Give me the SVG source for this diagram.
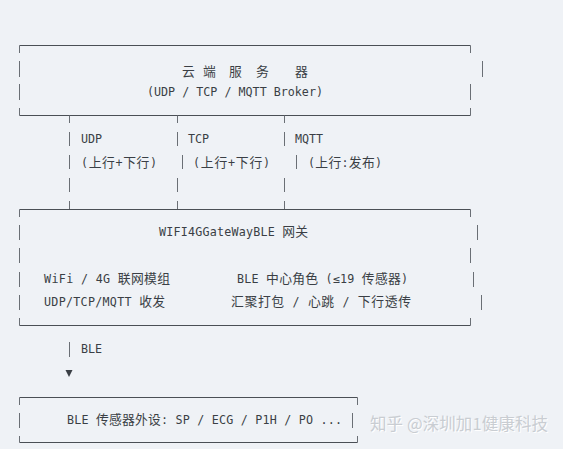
<svg xmlns="http://www.w3.org/2000/svg" width="563" height="449" viewBox="0 0 563 449">
<style>
.t{font-family:"DejaVu Sans Mono","Liberation Mono","Noto Sans CJK SC",monospace;font-size:11.7px;fill:#3a3f45}
.t tspan{font-family:"Noto Sans CJK SC",sans-serif;font-size:12.8px}
.c{font-family:"Noto Sans CJK SC",sans-serif;font-size:12.8px;fill:#3a3f45}
.h{stroke:#4a4f55;stroke-width:1;fill:none}
.v{stroke:#6a6f75;stroke-width:1;fill:none}
.wm{font-family:"Noto Sans CJK SC",sans-serif;font-size:16.5px}
</style>
<rect width="563" height="449" fill="#eff2f6"/>
<g id="cloud">
<path class="h" d="M19.5 45.5H470.5M19.5 115.5H470.5"/>
<path class="v" d="M19.5 45.5V53M19.5 61V77M19.5 84V100M19.5 108V115.5M470.5 45.5V53M482.5 61V77M470.5 84V100M470.5 108V115.5"/>
<text class="c" x="182" y="76">云</text>
<text class="c" x="203" y="76">端</text>
<text class="c" x="229" y="76">服</text>
<text class="c" x="256" y="76">务</text>
<text class="c" x="295" y="76">器</text>
<text class="t" x="147" y="96" textLength="176" lengthAdjust="spacing">(UDP / TCP / MQTT Broker)</text>
</g>
<g id="connectors">
<path class="v" d="M69.5 115.5V123M69.5 132V146M69.5 155V169M69.5 178V192M69.5 201V209.5"/>
<path class="v" d="M177.5 115.5V123M177.5 132V146M182.5 155V169M177.5 178V192M177.5 201V209.5"/>
<path class="v" d="M284.5 115.5V123M284.5 132V146M296.5 155V169M284.5 178V192M284.5 201V209.5"/>
<text class="t" x="81" y="143">UDP</text>
<text class="t" x="81" y="167" textLength="76" lengthAdjust="spacing">(<tspan>上行</tspan>+<tspan>下行</tspan>)</text>
<text class="t" x="188" y="143">TCP</text>
<text class="t" x="193" y="167" textLength="77" lengthAdjust="spacing">(<tspan>上行</tspan>+<tspan>下行</tspan>)</text>
<text class="t" x="295" y="143">MQTT</text>
<text class="t" x="308" y="167" textLength="74" lengthAdjust="spacing">(<tspan>上行</tspan>:<tspan>发布</tspan>)</text>
<path class="v" d="M69.5 342V357"/>
<text class="t" x="81" y="353">BLE</text>
<path d="M65.5 370H72.5L69 377Z" fill="#3a3f45"/>
</g>
<g id="gateway">
<path class="h" d="M19.5 209.5H470.5M19.5 325.5H470.5"/>
<path class="v" d="M19.5 209.5V217M19.5 225V240M19.5 248V263M19.5 272V287M19.5 295V310M19.5 318V325.5M470.5 209.5V217M477.5 225V240M470.5 248V263M473.5 272V287M481.5 295V310M470.5 318V325.5"/>
<text class="t" x="159" y="236" textLength="149" lengthAdjust="spacing">WIFI4GGateWayBLE <tspan>网关</tspan></text>
<text class="t" x="44" y="283" textLength="126" lengthAdjust="spacing">WiFi / 4G <tspan>联网模组</tspan></text>
<text class="t" x="237" y="283" textLength="171" lengthAdjust="spacing">BLE <tspan>中心角色</tspan> (≤19 <tspan>传感器</tspan>)</text>
<text class="t" x="44" y="306" textLength="121" lengthAdjust="spacing">UDP/TCP/MQTT <tspan>收发</tspan></text>
<text class="t" x="231" y="306" textLength="180" lengthAdjust="spacing"><tspan>汇聚打包</tspan> / <tspan>心跳</tspan> / <tspan>下行透传</tspan></text>
</g>
<g id="sensors">
<path class="h" d="M19.5 397.5H357.5M19.5 442.5H357.5"/>
<path class="v" d="M19.5 397.5V405M19.5 413V428M19.5 436V442.5M357.5 397.5V405M352.5 413V428M357.5 436V442.5"/>
<text class="t" x="67" y="424" textLength="275" lengthAdjust="spacing">BLE <tspan>传感器外设</tspan>: SP / ECG / P1H / PO ...</text>
</g>
<g id="watermark">
<text class="wm" x="371" y="431" fill="#ffffff" textLength="178" lengthAdjust="spacing">知乎 @深圳加1健康科技</text>
<text class="wm" x="370" y="430" fill="#c9cdd2" textLength="178" lengthAdjust="spacing">知乎 @深圳加1健康科技</text>
</g>
</svg>
